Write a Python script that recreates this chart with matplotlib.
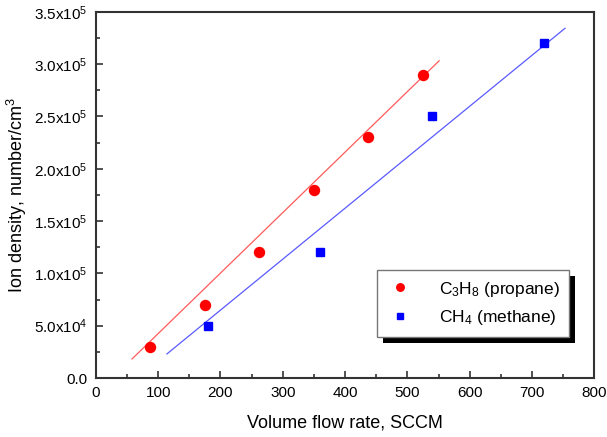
import numpy as np
import matplotlib.pyplot as plt
import matplotlib.patheffects as pe
from matplotlib.ticker import MultipleLocator, FuncFormatter

plt.rcParams['font.family'] = ['Liberation Sans', 'DejaVu Sans']
plt.rcParams['mathtext.fontset'] = 'custom'
plt.rcParams['mathtext.rm'] = 'Liberation Sans'
plt.rcParams['mathtext.it'] = 'Liberation Sans:italic'

# dados
propano_x = [87, 175, 262, 350, 437, 525]
propano_y = [3.0e4, 7.0e4, 1.2e5, 1.8e5, 2.3e5, 2.9e5]
metano_x = [180, 360, 540, 720]
metano_y = [5.0e4, 1.2e5, 2.5e5, 3.2e5]

# retas de ajuste (inclinacao, intercepto, faixa de x)
ajuste_propano = (578.0, -1.53e4, 58, 551)
ajuste_metano = (487.0, -3.25e4, 114, 753)


def formata_y(v, pos):
    if v == 0:
        return '0.0'
    exp = int(np.floor(np.log10(abs(v))))
    mant = v / 10 ** exp
    return '%.1fx10$^{%d}$' % (mant, exp)


fig = plt.figure(figsize=(6.07, 4.37), dpi=100)
ax = fig.add_axes([0.158, 0.135, 0.821, 0.838])

# retas
a, b, x0, x1 = ajuste_propano
xs = np.array([x0, x1])
ax.plot(xs, a * xs + b, color='#ff5a5a', lw=0.9)
a, b, x0, x1 = ajuste_metano
xs = np.array([x0, x1])
ax.plot(xs, a * xs + b, color='#5a5aff', lw=0.9)

# pontos
ax.plot(propano_x, propano_y, 'o', color='red', markersize=7.2, label='C$_3$H$_8$ (propane)')
ax.plot(metano_x, metano_y, 's', color='blue', markersize=6.3, label='CH$_4$ (methane)')

ax.set_xlim(0, 800)
ax.set_ylim(0, 3.5e5)
ax.xaxis.set_major_locator(MultipleLocator(100))
ax.xaxis.set_minor_locator(MultipleLocator(50))
ax.yaxis.set_major_locator(MultipleLocator(5e4))
ax.yaxis.set_minor_locator(MultipleLocator(2.5e4))
ax.yaxis.set_major_formatter(FuncFormatter(formata_y))
ax.tick_params(which='both', direction='in', top=False, right=False,
               labelsize=11, width=1.2, color='#333333')
ax.tick_params(which='major', length=5, pad=6)
ax.tick_params(which='minor', length=3)
for s in ax.spines.values():
    s.set_linewidth(1.5)
    s.set_color('#333333')

ax.set_xlabel('Volume flow rate, SCCM', fontsize=13, labelpad=10)
ax.set_ylabel('Ion density, number/cm$^3$', fontsize=13, labelpad=4)

leg = ax.legend(loc='upper left', bbox_to_anchor=(0.564, 0.295), borderaxespad=0,
                fancybox=False, fontsize=12.5, handletextpad=1.4, borderpad=0.55,
                handlelength=1.6, labelspacing=0.55, framealpha=1, markerscale=0.75)
frame = leg.get_frame()
frame.set_edgecolor('#777777')
frame.set_linewidth(1.0)
frame.set_path_effects([pe.SimplePatchShadow(offset=(4.3, -4.3), shadow_rgbFace='k', alpha=1),
                        pe.Normal()])

fig.savefig('out.png', dpi=100)
